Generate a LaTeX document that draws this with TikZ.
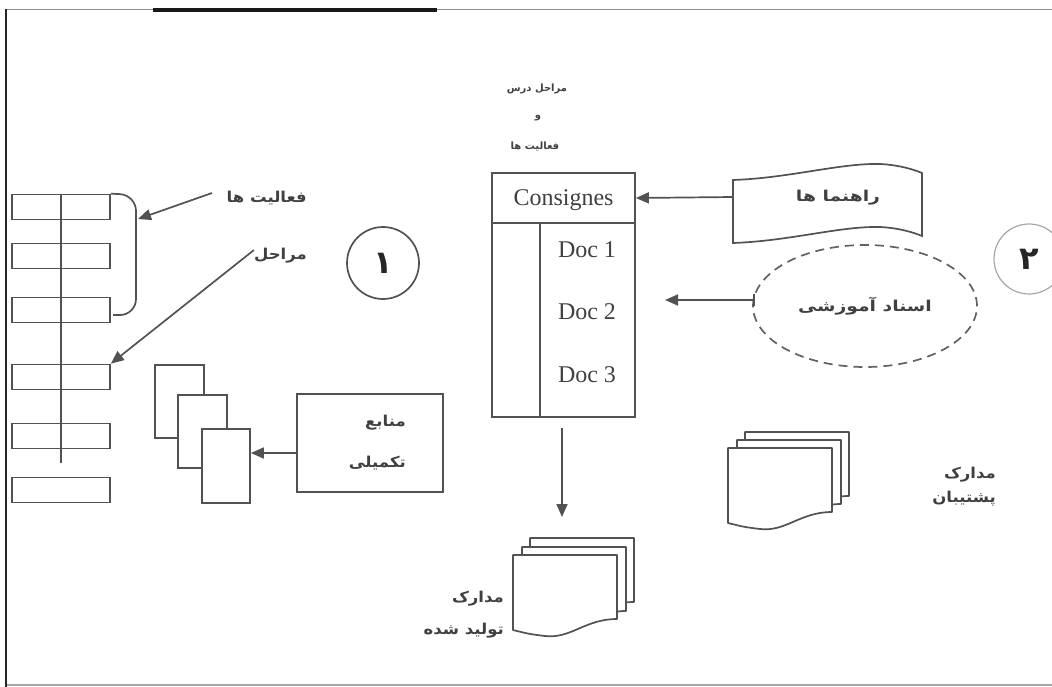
\documentclass[tikz,border=0pt]{standalone}
\usepackage{fontspec}
\usepackage{graphicx}
\setmainfont{Liberation Serif}
\newfontfamily\farsi[Script=Arabic]{DejaVu Sans}
\TeXXeTstate=1
\usetikzlibrary{arrows.meta,shapes.geometric,calc}
\newcommand\fatext[1]{\scalebox{1.1}[1]{\beginR #1\endR}}
\newcommand\fawide[1]{\scalebox{1.25}[1]{\beginR #1\endR}}
\newcommand\fasmall[1]{\beginR #1\endR}
\tikzset{
 ln/.style={draw=black!68, line width=1.7pt},
 arr/.style={ln, -{Triangle[length=13pt,width=11pt]}},
 box/.style={ln, rectangle, inner sep=0pt, fill=white},
 lbl/.style={font=\farsi\bfseries\fontsize{15}{18}\selectfont, text=black!75, inner sep=1pt},
 smlbl/.style={font=\farsi\bfseries\fontsize{10}{12}\selectfont, text=black!75, inner sep=1pt},
 doctxt/.style={font=\fontsize{24}{28}\selectfont, text=black!75, inner sep=0pt},
 docsh/.style={ln, fill=white, line join=round},
 docpage/.pic={\draw[docsh] (0,75) -- (0,0) -- (104,0) -- (104,64) .. controls (72,64) and (58,84) .. (32,81) .. controls (16,79) .. (0,75) -- cycle;},
}
\begin{document}
\begin{tikzpicture}[x=1pt,y=-1pt]
\useasboundingbox (0,0) rectangle (1052,687);
% frame
\draw[black!45, line width=1pt] (6,10) -- (1052,10);
\draw[black!35, line width=1.2pt] (6,685) -- (1052,685);
\draw[black!90, line width=4pt] (153,10) -- (437,10);
\draw[black!85, line width=2.2pt] (6,9) -- (6,687);

% left list of steps
\foreach \n/\y in {1/207,2/256,3/310,4/377,5/436,6/490}
  \node[box, minimum width=98pt, minimum height=25pt] (r\n) at (61,\y) {};
\coordinate (vend) at (61,463);
\draw[ln] (r1.north) -- (vend);
\coordinate (bk1) at (136,195);
\coordinate (bk2) at (136,315);
\coordinate (bk3) at (113,315);
\draw[ln, rounded corners=16pt] (r1.north east) -- (bk1) -- (bk2) -- (bk3);

\node[lbl, anchor=east] (lfa) at (308,198) {\fatext{فعالیت ها}};
\node[lbl, anchor=east] (lmar) at (308,256) {\fatext{مراحل}};
\coordinate (a1s) at (212,193);
\coordinate (a1e) at (138,219);
\draw[arr] (a1s) -- (a1e);
\coordinate (a2s) at (254,250);
\draw[arr] (a2s) -- (r4.north east);

% circles
\node[circle, ln, minimum size=72pt, inner sep=0pt, font=\farsi\bfseries\fontsize{32}{36}\selectfont, text=black!85] (c1) at (383,263) {\beginR ۱\endR};
\node[circle, draw=black!35, line width=1.2pt, minimum size=70pt, inner sep=0pt, font=\farsi\bfseries\fontsize{32}{36}\selectfont, text=black!85] (c2) at (1029,259) {\beginR ۲\endR};

% top labels
\node[smlbl] (t1) at (537,89) {\fasmall{مراحل درس}};
\node[smlbl] (t2) at (538,118) {\fasmall{و}};
\node[smlbl] (t3) at (535,147) {\fasmall{فعالیت ها}};

% central box
\node[box, minimum width=143pt, minimum height=50pt] (cons) at (563.5,198) {};
\node[doctxt] (consT) at (563.5,200) {Consignes};
\node[box, minimum width=143pt, minimum height=194pt] (dbox) at (563.5,320) {};
\draw[ln] ([xshift=49pt]dbox.north west) -- ([xshift=49pt]dbox.south west);
\node[doctxt] (d1) at (587,250) {Doc 1};
\node[doctxt] (d2) at (587,312) {Doc 2};
\node[doctxt] (d3) at (587,375) {Doc 3};

% scroll (guides)
\draw[ln, fill=white] (733,180) .. controls (790,178) and (840,163) .. (880,164)
   .. controls (900,165) and (915,170) .. (922,173) -- (922,236)
   .. controls (915,233) and (900,228) .. (880,227)
   .. controls (840,226) and (790,241) .. (733,243) -- cycle;
\node[lbl] (guide) at (838,198) {\fawide{راهنما ها}};
\coordinate (sw) at (733,197);
\draw[arr] (sw) -- (cons.east);

% dashed ellipse
\node[ellipse, draw=black!62, line width=1.7pt, dash pattern=on 9pt off 6pt, minimum width=224pt, minimum height=122pt, inner sep=0pt, lbl] (ell) at (865,306) {\fawide{اسناد آموزشی}};
\coordinate (e1) at (755,300);
\coordinate (e2) at (665,300);
\draw[ln, {Bar[width=12pt]}-{Triangle[length=13pt,width=11pt]}] (e1) -- (e2);

% down arrow
\coordinate (da1) at (562,428);
\coordinate (da2) at (562,517);
\draw[arr] (da1) -- (da2);

% produced documents
\pic at (530,538) {docpage};
\pic at (522,547) {docpage};
\pic at (513,555) {docpage};
\node[lbl, anchor=east] (m1) at (505,599) {\fatext{مدارک}};
\node[lbl, anchor=east] (m2) at (505,631) {\fatext{تولید شده}};

% support documents
\pic at (745,432) {docpage};
\pic at (737,440) {docpage};
\pic at (728,448) {docpage};
\node[lbl, anchor=east] (p1) at (997,475) {\fatext{مدارک}};
\node[lbl, anchor=east] (p2) at (997,499) {\fatext{پشتیبان}};

% supplementary resources
\node[box, minimum width=49pt, minimum height=73pt] (pA) at (179.5,401.5) {};
\node[box, minimum width=49pt, minimum height=73pt] (pB) at (202.5,431.5) {};
\node[box, minimum width=48pt, minimum height=74pt] (pC) at (226,466) {};
\node[box, minimum width=146pt, minimum height=98pt] (src) at (370,443) {};
\node[lbl, anchor=east] (s1) at (407,423) {\fatext{منابع}};
\node[lbl, anchor=east] (s2) at (407,463) {\fatext{تکمیلی}};
\draw[arr] ([yshift=-10pt]src.west) -- ([yshift=-10pt]src.west -| pC.east);
\end{tikzpicture}
\end{document}
